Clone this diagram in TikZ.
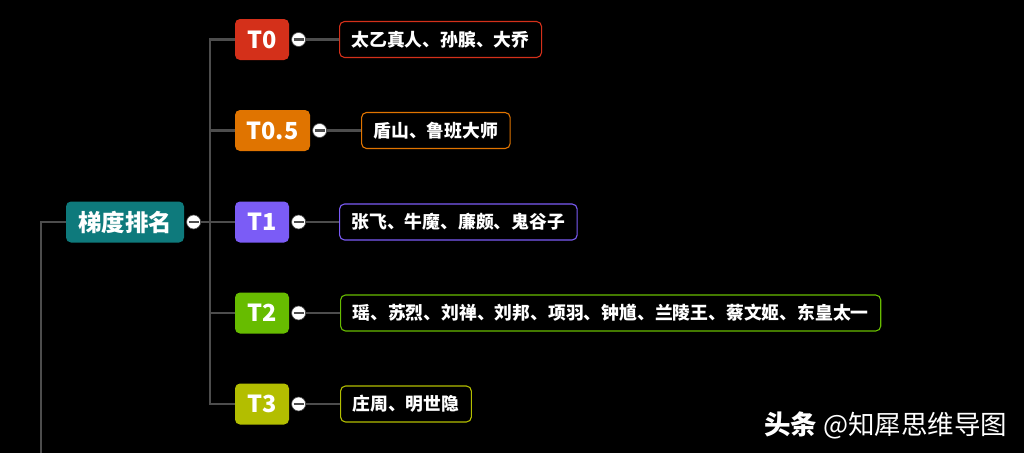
\documentclass[tikz,border=0pt]{standalone}
\usepackage{fontspec}
\setmainfont{Noto Sans CJK SC}
\usetikzlibrary{positioning}

\definecolor{rootcol}{HTML}{0E7A7C}
\definecolor{tzero}{HTML}{D4301A}
\definecolor{thalf}{HTML}{E07400}
\definecolor{tone}{HTML}{7B5CF6}
\definecolor{ttwo}{HTML}{67BC00}
\definecolor{tthree}{HTML}{B3BE00}
\definecolor{linecol}{HTML}{4D4D4D}

\begin{document}
\begin{tikzpicture}[x=1pt,y=-1pt,semithick]
\tikzstyle{tier}=[rounded corners=5pt,text=white,font=\bfseries\fontsize{23.5}{24}\selectfont,minimum height=41pt,inner sep=0pt]
\tikzstyle{item}=[draw,rounded corners=5pt,fill=black,text=white,line width=1.1pt,font=\bfseries\fontsize{17.8}{18}\selectfont,minimum height=36pt,inner xsep=12pt,anchor=west]
\tikzstyle{fold}=[circle,draw=linecol,fill=white,minimum size=14pt,inner sep=0pt,
  path picture={\draw[linecol,line width=2.2pt] ([xshift=-5pt]path picture bounding box.center) -- ([xshift=5pt]path picture bounding box.center);}]
\tikzstyle{link}=[draw=linecol,line width=2.4pt]
\fill[black] (0,0) rectangle (1024,453);
\useasboundingbox (0,0) rectangle (1024,453);

% root
\node[tier,fill=rootcol,minimum width=118pt] (root) at (125,222) {梯度排名};
\node[fold,right=2pt of root] (froot) {};
\coordinate (tail) at (41,453);

% tiers
\node[tier,fill=tzero,minimum width=54pt] (t0) at (262,39.5) {T0};
\node[tier,fill=thalf,minimum width=75pt] (t05) at (272.5,130.5) {T0.5};
\node[tier,fill=tone,minimum width=54pt] (t1) at (262,222) {T1};
\node[tier,fill=ttwo,minimum width=54pt] (t2) at (262,313) {T2};
\node[tier,fill=tthree,minimum width=54pt] (t3) at (262,404) {T3};

\node[fold,right=2pt of t0] (f0) {};
\node[fold,right=2pt of t05] (f05) {};
\node[fold,right=2pt of t1] (f1) {};
\node[fold,right=2pt of t2] (f2) {};
\node[fold,right=2pt of t3] (f3) {};

% heroes
\node[item,draw=tzero] (i0) at (339,39.5) {太乙真人、孙膑、大乔};
\node[item,draw=thalf] (i05) at (361,130.5) {盾山、鲁班大师};
\node[item,draw=tone] (i1) at (339,222) {张飞、牛魔、廉颇、鬼谷子};
\node[item,draw=ttwo] (i2) at (340,313) {瑶、苏烈、刘禅、刘邦、项羽、钟馗、兰陵王、蔡文姬、东皇太一};
\node[item,draw=tthree] (i3) at (340,404) {庄周、明世隐};

\draw[link] (tail) |- (root.west);
\draw[link] (froot.east) -| ([xshift=-25pt]t0.west) -- (t0.west);
\draw[link] (froot.east) -| ([xshift=-25pt]t05.west) -- (t05.west);
\draw[link] (froot.east) -- (t1.west);
\draw[link] (froot.east) -| ([xshift=-25pt]t2.west) -- (t2.west);
\draw[link] (froot.east) -| ([xshift=-25pt]t3.west) -- (t3.west);
\draw[link] (f0) -- (i0);
\draw[link] (f05) -- (i05);
\draw[link] (f1) -- (i1);
\draw[link] (f2) -- (i2);
\draw[link] (f3) -- (i3);

\node[text=white,anchor=east,font=\fontsize{26.5}{27}\selectfont] (mark) at (1011,425) {{\bfseries 头条} @知犀思维导图};
\end{tikzpicture}
\end{document}
